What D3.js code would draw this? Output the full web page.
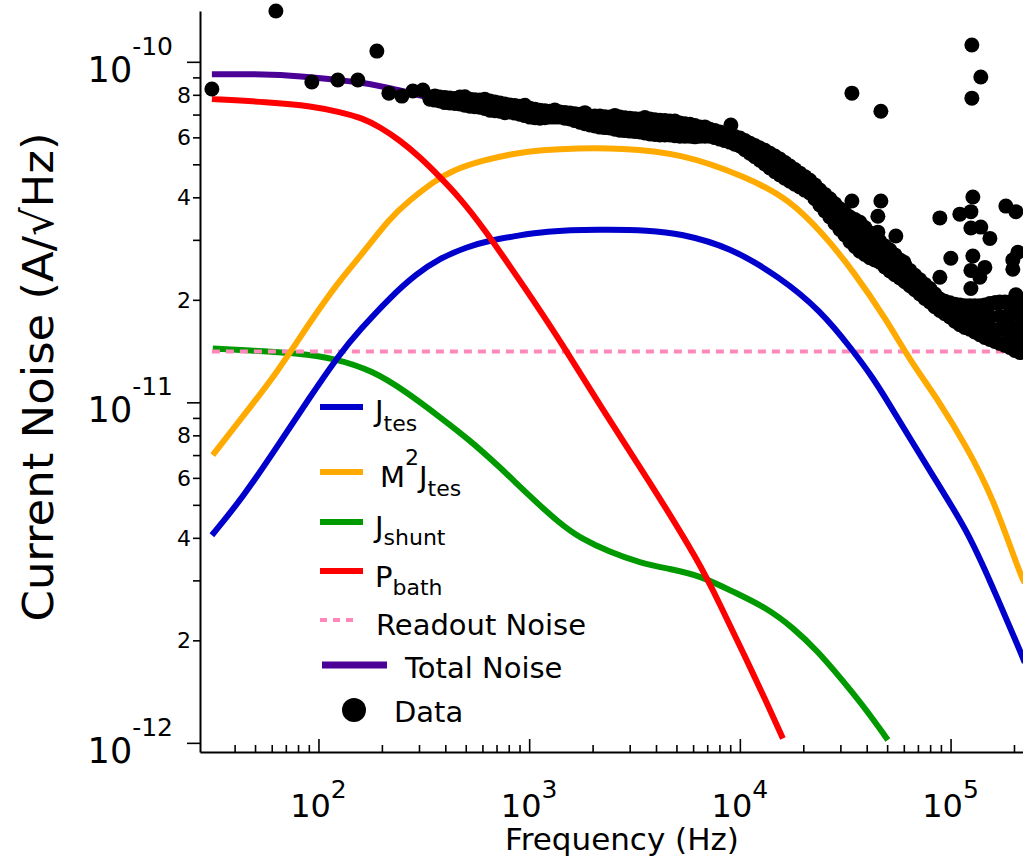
<!DOCTYPE html>
<meta charset="utf-8">
<script src="https://cdn.jsdelivr.net/npm/d3@7"></script>
<style>
body { margin: 0; background: #fff; }
text { font-family: "DejaVu Sans", sans-serif; fill: #000; }
.curve { fill: none; stroke-width: 6px; stroke-linejoin: round; }
.axis path, .axis line { stroke: #000; }
.axis path { stroke-width: 2px; }
.axis line { stroke-width: 1.6px; }
</style>
<body>
<script>

// all noise values in pA/sqrt(Hz), frequencies in Hz
var jtes = [[31.2, 4.07], [43.8, 5.26], [63.5, 7.39], [91, 10.35], [126.4, 13.9], [157, 16.3],
  [218, 20.3], [293, 23.9], [377, 26.5], [506, 28.6], [651, 29.9], [874, 30.8], [1161, 31.8],
  [2166, 32.2], [3741, 32.0], [5191, 31.3], [8963, 28.6], [15484, 23.3], [23975, 18.7],
  [34390, 14.2], [42780, 11.8], [49850, 10.15], [66250, 7.59], [88970, 5.64], [119500, 4.21],
  [153700, 3.0], [213300, 1.87], [225000, 1.72]];

var m2jtes = [[31.5, 7.0], [43.8, 9.1], [63.5, 12.2], [91, 17.2], [126.4, 22.9], [157, 26.7],
  [218, 34.8], [272, 39.3], [349, 44.3], [434.5, 48.1], [602.8, 51.4], [874, 54.0], [1124, 55.0],
  [1700, 55.8], [2695, 55.8], [5191, 54.0], [10800, 45.9], [17273, 39.3], [24770, 31.3],
  [34390, 24.4], [49850, 17.4], [64100, 13.3], [88970, 10.0], [119500, 7.38], [158800, 5.26],
  [213300, 3.14], [225000, 2.95]];

var jshunt = [[31.5, 14.4], [56.9, 14.1], [81.6, 13.9], [117, 13.5], [181.3, 12.4], [262.8, 10.7],
  [377, 9.05], [523, 7.74], [726, 6.45], [975, 5.4], [1399, 4.4], [1740, 4.0], [2416, 3.63],
  [3353, 3.38], [4654, 3.24], [6460, 3.1], [9265, 2.78], [13430, 2.49], [17850, 2.18],
  [23200, 1.87], [29830, 1.56], [38350, 1.29], [50400, 1.02]];

var pbath = [[31.2, 77.7], [56.9, 76.2], [94.1, 74.1], [126.4, 71.2], [162.5, 68.3], [195.6, 64.3],
  [243, 58.9], [303, 52.5], [377, 45.9], [469, 39.8], [602.8, 32.7], [836.9, 24.4], [1041, 20.0],
  [1399, 15.2], [2166, 9.8], [3741, 5.83], [6460, 3.37], [8037, 2.55], [10330, 1.85],
  [13430, 1.31], [16000, 1.03]];

var readout = [[31.2, 14.1], [250000, 14.1]];

var total = [[31.2, 92.0], [63.5, 92.0], [91.0, 90.2], [157.2, 87.2], [211.2, 84.3], [293, 79.9],
  [726, 71.2], [874, 68.8], [2166, 66.5], [6460, 62.6], [10000, 58.1], [15484, 49.1],
  [26740, 37.2], [46180, 27.8], [79740, 20.6], [137700, 17.2], [213300, 16.0], [250000, 15.7]];

// measured spectrum
var dataLow = [[31.2, 83.2], [62.8, 141], [93.0, 87.2], [123.6, 88.4], [153.8, 88.4], [189.3, 107.5],
  [215.9, 80.9], [248.8, 79.3], [280.5, 82.1], [313.0, 82.6]];

var dataBand = [
  [338, 78.8], [338, 77.7], [377, 78.8], [377, 76.7], [420, 78.3], [420, 75.7],
  [469, 78.8], [469, 75.2], [523, 77.7], [523, 74.1], [583, 77.2], [583, 73.6],
  [651, 76.7], [651, 72.1], [726, 75.7], [726, 71.6], [810, 74.7], [810, 71.2],
  [903, 74.1], [903, 70.2], [1008, 73.1], [1008, 68.8], [1124, 72.1], [1124, 68.3],
  [1254, 71.6], [1254, 68.8], [1399, 71.2], [1399, 68.8], [1561, 70.7], [1561, 67.9],
  [1740, 70.2], [1740, 66.5], [1942, 69.3], [1942, 65.2], [2166, 69.3], [2166, 64.3],
  [2416, 68.8], [2416, 63.9], [2695, 68.8], [2695, 63.0], [3006, 68.3], [3006, 62.6],
  [3353, 67.9], [3353, 62.2], [3741, 67.9], [3741, 64.8], [3741, 61.4],
  [4172, 67.4], [4172, 64.3], [4172, 61.0], [4654, 67.0], [4654, 63.9], [4654, 61.0],
  [5191, 66.1], [5191, 60.5], [5790, 65.6], [5790, 60.5], [6460, 64.3], [6460, 60.5],
  [7204, 63.4], [7204, 60.5], [8037, 62.2], [8037, 59.3], [8963, 61.0], [8963, 58.1],
  [10000, 59.7], [10000, 56.6], [11155, 57.7], [11155, 53.9], [12443, 55.8], [12443, 51.4],
  [13882, 53.9], [13882, 51.4], [13882, 48.8], [15484, 51.8], [15484, 49.1], [15484, 46.5],
  [17273, 49.4], [17273, 47.1], [17273, 44.6], [19270, 47.1], [19270, 44.9], [19270, 42.9],
  [21490, 44.9], [21490, 41.2], [23975, 42.0], [23975, 40.1], [23975, 38.0],
  [26740, 39.6], [26740, 37.2], [26740, 35.0], [29830, 37.0], [29830, 34.5], [29830, 32.2],
  [33280, 35.0], [33280, 32.2], [33280, 29.7], [37120, 33.8], [37120, 31.6], [37120, 29.7], [37120, 27.8],
  [41410, 31.4], [41410, 28.9], [41410, 26.6], [46180, 29.7], [46180, 27.8], [46180, 25.8],
  [51520, 28.0], [51520, 26.2], [51520, 24.3], [57470, 26.2], [57470, 24.6], [57470, 23.2],
  [64100, 24.4], [64100, 23.2], [64100, 22.0], [71510, 22.9], [71510, 21.8], [71510, 20.8],
  [79740, 21.6], [79740, 19.7], [88970, 20.1], [88970, 18.6],
  [99240, 19.6], [99240, 18.7], [99240, 17.8], [110700, 19.3], [110700, 18.2], [110700, 16.9],
  [123500, 19.2], [123500, 17.8], [123500, 16.4],
  [137700, 19.2], [137700, 17.9], [137700, 16.9], [137700, 15.8],
  [153700, 19.5], [153700, 17.9], [153700, 16.6], [153700, 15.3],
  [171400, 19.7], [171400, 17.9], [171400, 16.4], [171400, 14.9],
  [191200, 19.7], [191200, 18.3], [191200, 16.9], [191200, 15.6], [191200, 14.5],
  [213300, 19.7], [213300, 18.1], [213300, 16.6], [213300, 15.2], [213300, 14.0],
  // in-between bins
  [357, 79.4], [357, 77.2], [398, 78.5], [398, 75.9], [444, 78.0], [444, 75.4],
  [495, 78.9], [495, 74.6], [552, 77.4], [552, 73.8], [616, 77.6], [616, 72.9],
  [688, 76.2], [688, 71.8], [767, 75.2], [767, 70.9], [855, 74.4], [855, 70.7],
  [954, 74.5], [954, 69.5], [1065, 72.6], [1065, 68.5], [1187, 71.8], [1187, 68.5],
  [1324, 72.2], [1324, 68.8], [1478, 71.0], [1478, 68.3], [1649, 70.4], [1649, 67.2],
  [1838, 70.9], [1838, 65.8], [2051, 69.3], [2051, 64.8], [2288, 69.0], [2288, 64.1],
  [2552, 69.6], [2552, 63.4], [2847, 68.5], [2847, 62.8], [3175, 68.1], [3175, 62.4],
  [3541, 68.6], [3541, 61.8], [3951, 67.6], [3951, 61.2], [4406, 67.2], [4406, 61.0],
  [4916, 67.0], [4916, 60.7], [5483, 65.8], [5483, 60.5], [6115, 65.0], [6115, 60.2],
  [6823, 64.4], [6823, 60.5], [7609, 62.8], [7609, 59.9], [8489, 61.6], [8489, 58.7],
  [9467, 60.3], [9467, 57.3], [10562, 58.7], [10562, 55.2], [11782, 56.8], [11782, 52.6],
  [13142, 55.0], [13142, 50.1], [14662, 52.9], [14662, 47.6], [16354, 50.6], [16354, 45.5],
  [18244, 48.3], [18244, 43.7], [20353, 46.0], [20353, 42.0], [22698, 43.5], [22698, 39.6],
  [25322, 40.8], [25322, 36.5], [28243, 38.3], [28243, 33.6], [31507, 36.0], [31507, 31.0],
  [35150, 34.4], [35150, 28.7], [39206, 32.6], [39206, 27.2], [43737, 30.5], [43737, 26.2],
  [48775, 28.8], [48775, 25.0], [54415, 27.1], [54415, 23.7], [60700, 25.3], [60700, 22.6],
  [67702, 23.6], [67702, 21.4], [75530, 22.2], [75530, 20.2], [84221, 20.8], [84221, 19.1],
  [93970, 19.8], [93970, 18.2], [104820, 19.4], [104820, 17.3], [116920, 19.2], [116920, 16.6],
  [130440, 19.2], [130440, 16.1], [145440, 19.3], [145440, 15.5], [162340, 19.6], [162340, 15.1],
  [181030, 19.7], [181030, 14.7], [201950, 19.7], [201950, 14.2]];

var dataSpikes = [[9065, 65.2], [34020, 80.9], [46690, 71.6], [126200, 112.0], [139200, 90.2],
  [126200, 78.2], [34020, 39.0], [46690, 39.0], [45190, 35.2], [45190, 31.6], [55000, 30.8],
  [60000, 25.8], [88970, 34.8], [110700, 35.7], [127600, 40.1], [124900, 36.3], [124900, 32.5],
  [139200, 32.7], [153700, 30.3], [100300, 26.5], [127600, 26.9], [88970, 23.3], [124900, 24.4],
  [145500, 24.9], [137700, 23.3], [124900, 21.6], [183000, 37.7], [204200, 36.3], [208700, 27.6],
  [197500, 26.2], [197500, 24.6], [204200, 20.7], [164100, 19.6]];

var xMajor = [1e2, 1e3, 1e4, 1e5];
var yMajor = [1e-12, 1e-11, 1e-10];
var minorSteps = [2, 3, 4, 5, 6, 7, 8, 9];
var labelledSteps = [2, 4, 6, 8];

var width = 1023,
    height = 860;

var svg = d3.select("body").append("svg")
    .attr("width", width)
    .attr("height", height);

var x = d3.scaleLog().domain([27.4, 2.5e5]).range([200, 1034.4]);
var y = d3.scaleLog().domain([9.4e-13, 1.41e-10]).range([752, 11]);

var xMinor = [];
[10, 100, 1000, 10000, 100000].forEach(function(dec) {
  minorSteps.forEach(function(k) {
    if (dec * k > 35 && dec * k < 2.5e5) xMinor.push(dec * k);
  });
});
var yMinor = [];
[1e-12, 1e-11].forEach(function(dec) {
  minorSteps.forEach(function(k) { yMinor.push(dec * k); });
});

// x axis, ticks pointing up into the plot
svg.append("g").attr("class", "axis")
    .attr("transform", "translate(0,752)")
    .call(d3.axisBottom(x).tickValues(xMajor).tickSize(-13).tickSizeOuter(0).tickFormat(""));
svg.append("g").attr("class", "axis")
    .attr("transform", "translate(0,752)")
    .call(d3.axisBottom(x).tickValues(xMinor).tickSize(-7).tickSizeOuter(0).tickFormat(""))
    .select(".domain").remove();

// y axis, ticks pointing out
svg.append("g").attr("class", "axis")
    .attr("transform", "translate(200,0)")
    .call(d3.axisLeft(y).tickValues(yMajor).tickSize(13).tickSizeOuter(0).tickFormat(""));
svg.append("g").attr("class", "axis")
    .attr("transform", "translate(200,0)")
    .call(d3.axisLeft(y).tickValues(yMinor).tickSize(7).tickSizeOuter(0).tickFormat(""))
    .select(".domain").remove();

// x tick labels 10^n
xMajor.forEach(function(v) {
  var t = svg.append("text")
      .attr("x", x(v))
      .attr("y", 817)
      .attr("text-anchor", "middle")
      .attr("font-size", "32px")
      .text("10");
  t.append("tspan")
      .attr("font-size", "25px")
      .attr("dy", -19)
      .text(Math.round(Math.log10(v)));
});

// y tick labels 10^n
yMajor.forEach(function(v) {
  var t = svg.append("text")
      .attr("x", 173)
      .attr("y", y(v) + 20)
      .attr("text-anchor", "end")
      .attr("font-size", "35px")
      .text("10");
  t.append("tspan")
      .attr("font-size", "25px")
      .attr("dy", -27)
      .text(Math.round(Math.log10(v)));
});

// small y labels 2,4,6,8
function mantissa(v) {
  return Math.round(v / Math.pow(10, Math.floor(Math.log10(v) + 1e-9)));
}
yMinor.filter(function(v) { return labelledSteps.indexOf(mantissa(v)) >= 0; })
  .forEach(function(v) {
    svg.append("text")
        .attr("x", 191)
        .attr("y", y(v))
        .attr("dy", "0.36em")
        .attr("text-anchor", "end")
        .attr("font-size", "22px")
        .text(mantissa(v));
  });

// axis titles
svg.append("text")
    .attr("x", 622)
    .attr("y", 850)
    .attr("text-anchor", "middle")
    .attr("font-size", "31px")
    .text("Frequency (Hz)");

svg.append("text")
    .attr("transform", "translate(53,377) rotate(-90)")
    .attr("text-anchor", "middle")
    .attr("font-size", "43px")
    .attr("textLength", 489)
    .attr("lengthAdjust", "spacingAndGlyphs")
    .text("Current Noise (A/\u221AHz)");

// model curves
var line = d3.line()
    .x(function(d) { return x(d[0]); })
    .y(function(d) { return y(d[1] * 1e-12); })
    .curve(d3.curveBasis);

var curves = [
  {data: jshunt, color: "#009900"},
  {data: readout, color: "#ff88bb", dash: "8,6", width: 4},
  {data: m2jtes, color: "#ffaa00"},
  {data: jtes, color: "#0000cc"},
  {data: pbath, color: "#ff0000"},
  {data: total, color: "#4b0096"}
];

svg.append("g").selectAll("path")
    .data(curves)
    .enter().append("path")
    .attr("class", "curve")
    .attr("d", function(d) { return line(d.data); })
    .attr("stroke", function(d) { return d.color; })
    .attr("stroke-dasharray", function(d) { return d.dash || null; })
    .style("stroke-width", function(d) { return d.width ? d.width + "px" : null; });

// data points
svg.append("g").selectAll("circle")
    .data(dataLow.concat(dataBand, dataSpikes))
    .enter().append("circle")
    .attr("cx", function(d) { return x(d[0]); })
    .attr("cy", function(d) { return y(d[1] * 1e-12); })
    .attr("r", 7.5)
    .attr("fill", "#000");

// legend
var legend = [
  {color: "#0000cc", x1: 320, x2: 363, ly: 407, tx: 375, parts: [["J", 29, 421], ["tes", 22, 431]]},
  {color: "#ffaa00", x1: 320, x2: 363, ly: 472, tx: 380, parts: [["M", 29, 487], ["2", 22, 465], ["J", 29, 487], ["tes", 22, 496]]},
  {color: "#009900", x1: 320, x2: 363, ly: 522, tx: 375, parts: [["J", 29, 537], ["shunt", 22, 545]]},
  {color: "#ff0000", x1: 320, x2: 363, ly: 571, tx: 375, parts: [["P", 29, 587], ["bath", 22, 595]]},
  {color: "#ff88bb", x1: 320, x2: 356, ly: 620, tx: 376, dash: "7,6", width: 4, parts: [["Readout Noise", 29, 635]]},
  {color: "#4b0096", x1: 322, x2: 387, ly: 665, tx: 405, width: 7, parts: [["Total Noise", 29, 678]]},
  {color: "#000", dot: [354, 710], tx: 394, parts: [["Data", 29, 722]]}
];

var lg = svg.append("g");
legend.forEach(function(e) {
  if (e.dot) {
    lg.append("circle").attr("cx", e.dot[0]).attr("cy", e.dot[1]).attr("r", 12).attr("fill", e.color);
  } else {
    lg.append("line")
        .attr("x1", e.x1).attr("x2", e.x2)
        .attr("y1", e.ly).attr("y2", e.ly)
        .attr("stroke", e.color)
        .attr("stroke-width", e.width || 6)
        .attr("stroke-dasharray", e.dash || null);
  }
  var t = lg.append("text").attr("x", e.tx).attr("y", e.parts[0][2]);
  e.parts.forEach(function(p) {
    t.append("tspan")
        .attr("y", p[2])
        .attr("font-size", p[1] + "px")
        .text(p[0]);
  });
});

</script>
</body>
</html>
